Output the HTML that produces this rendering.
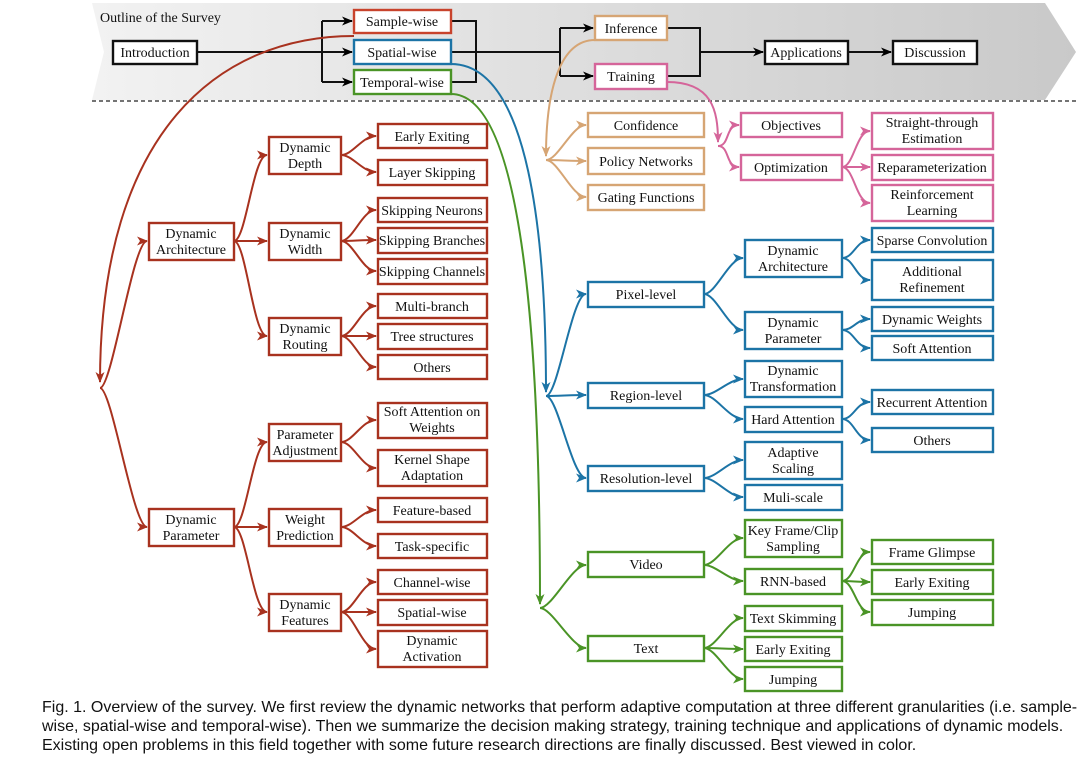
<!DOCTYPE html>
<html><head><meta charset="utf-8"><style>
html,body{margin:0;padding:0;background:#fff;}
svg{display:block;}
svg text{font-family:"Liberation Serif",serif;font-size:14px;text-anchor:middle;fill:#111;}
.cap{font-family:"Liberation Sans",sans-serif;font-size:16px;text-anchor:start;fill:#111;}
</style></head><body>
<svg id="s" width="1080" height="761" viewBox="0 0 1080 761" xmlns="http://www.w3.org/2000/svg">
<defs>
<linearGradient id="g" x1="0" x2="1" y1="0" y2="0"><stop offset="0" stop-color="#f2f2f2"/><stop offset="1" stop-color="#c9c9c9"/></linearGradient>
<marker id="mk" markerWidth="11" markerHeight="11" refX="10" refY="5.5" orient="auto" markerUnits="userSpaceOnUse"><path d="M0,1 L11,5.5 L0,10 L3,5.5z" fill="#000"/></marker>
<marker id="mr" markerWidth="11" markerHeight="11" refX="10" refY="5.5" orient="auto" markerUnits="userSpaceOnUse"><path d="M0,1 L11,5.5 L0,10 L3,5.5z" fill="#a8321f"/></marker>
<marker id="mb" markerWidth="11" markerHeight="11" refX="10" refY="5.5" orient="auto" markerUnits="userSpaceOnUse"><path d="M0,1 L11,5.5 L0,10 L3,5.5z" fill="#1c74a6"/></marker>
<marker id="mg" markerWidth="11" markerHeight="11" refX="10" refY="5.5" orient="auto" markerUnits="userSpaceOnUse"><path d="M0,1 L11,5.5 L0,10 L3,5.5z" fill="#4a9426"/></marker>
<marker id="mo" markerWidth="11" markerHeight="11" refX="10" refY="5.5" orient="auto" markerUnits="userSpaceOnUse"><path d="M0,1 L11,5.5 L0,10 L3,5.5z" fill="#d6a574"/></marker>
<marker id="mp" markerWidth="11" markerHeight="11" refX="10" refY="5.5" orient="auto" markerUnits="userSpaceOnUse"><path d="M0,1 L11,5.5 L0,10 L3,5.5z" fill="#d5659a"/></marker>
</defs>
<path d="M92,3 L1045,3 L1076,52 L1045,100 L92,100 L104,52 Z" fill="url(#g)"/>
<line x1="92" y1="101" x2="1076" y2="101" stroke="#222" stroke-dasharray="4,3" stroke-width="1.2"/>
<text x="100" y="22" style="text-anchor:start;font-size:14px">Outline of the Survey</text>
<g id="conn" fill="none" stroke-width="2"></g>
<g id="boxes" fill="#fff" stroke-width="2.4">
<rect x="113" y="41" width="84" height="23" stroke="#111"/>
<rect x="354" y="10" width="97" height="23" stroke="#c8432c"/>
<rect x="354" y="40" width="97" height="24" stroke="#1c74a6"/>
<rect x="354" y="70" width="97" height="24" stroke="#4a9426"/>
<rect x="595" y="16" width="72" height="24" stroke="#d6a574"/>
<rect x="595" y="64" width="72" height="25" stroke="#d5659a"/>
<rect x="765" y="41" width="83" height="23" stroke="#111"/>
<rect x="893" y="41" width="84" height="23" stroke="#111"/>
<g stroke="#a8321f">
<rect x="149" y="223" width="85" height="37"/><rect x="269" y="137" width="72" height="37"/><rect x="269" y="223" width="72" height="37"/><rect x="269" y="318" width="72" height="37"/>
<rect x="378" y="124" width="109" height="24"/><rect x="378" y="160" width="109" height="25"/><rect x="378" y="198" width="109" height="24"/><rect x="378" y="228" width="109" height="25"/><rect x="378" y="259" width="109" height="25"/><rect x="378" y="294" width="109" height="24"/><rect x="378" y="324" width="109" height="25"/><rect x="378" y="355" width="109" height="24"/>
<rect x="149" y="509" width="85" height="37"/><rect x="269" y="424" width="72" height="37"/><rect x="269" y="509" width="72" height="37"/><rect x="269" y="594" width="72" height="37"/>
<rect x="378" y="403" width="109" height="35"/><rect x="378" y="450" width="109" height="36"/><rect x="378" y="498" width="109" height="24"/><rect x="378" y="534" width="109" height="24"/><rect x="378" y="570" width="109" height="24"/><rect x="378" y="600" width="109" height="25"/><rect x="378" y="631" width="109" height="36"/>
</g>
<g stroke="#d6a574"><rect x="588" y="113" width="116" height="24"/><rect x="588" y="148" width="116" height="26"/><rect x="588" y="185" width="116" height="25"/></g>
<g stroke="#d5659a"><rect x="741" y="113" width="101" height="24"/><rect x="741" y="155" width="101" height="25"/><rect x="872" y="113" width="121" height="36"/><rect x="872" y="155" width="121" height="25"/><rect x="872" y="185" width="121" height="36"/></g>
<g stroke="#1c74a6">
<rect x="588" y="282" width="116" height="25"/><rect x="588" y="383" width="116" height="25"/><rect x="588" y="466" width="116" height="25"/>
<rect x="745" y="240" width="97" height="37"/><rect x="745" y="312" width="97" height="37"/><rect x="745" y="361" width="97" height="36"/><rect x="745" y="407" width="97" height="25"/><rect x="745" y="442" width="97" height="37"/><rect x="745" y="485" width="97" height="25"/>
<rect x="872" y="228" width="121" height="24"/><rect x="872" y="260" width="121" height="40"/><rect x="872" y="307" width="121" height="24"/><rect x="872" y="336" width="121" height="24"/><rect x="872" y="390" width="121" height="24"/><rect x="872" y="428" width="121" height="24"/>
</g>
<g stroke="#4a9426">
<rect x="588" y="552" width="116" height="25"/><rect x="588" y="636" width="116" height="25"/>
<rect x="745" y="520" width="97" height="37"/><rect x="745" y="569" width="97" height="25"/><rect x="745" y="606" width="97" height="25"/><rect x="745" y="637" width="97" height="24"/><rect x="745" y="667" width="97" height="24"/>
<rect x="872" y="540" width="121" height="24"/><rect x="872" y="570" width="121" height="24"/><rect x="872" y="600" width="121" height="25"/>
</g>
</g>
<g>
<text x="155" y="57">Introduction</text>
<text x="402" y="26">Sample-wise</text><text x="402" y="57">Spatial-wise</text><text x="402" y="87">Temporal-wise</text>
<text x="631" y="33">Inference</text><text x="631" y="81">Training</text>
<text x="806" y="57">Applications</text><text x="935" y="57">Discussion</text>
<text x="191" y="238">Dynamic</text><text x="191" y="254">Architecture</text>
<text x="305" y="152">Dynamic</text><text x="305" y="168">Depth</text>
<text x="305" y="238">Dynamic</text><text x="305" y="254">Width</text>
<text x="305" y="333">Dynamic</text><text x="305" y="349">Routing</text>
<text x="432" y="141">Early Exiting</text><text x="432" y="177">Layer Skipping</text><text x="432" y="215">Skipping Neurons</text><text x="432" y="245">Skipping Branches</text><text x="432" y="276">Skipping Channels</text><text x="432" y="311">Multi-branch</text><text x="432" y="341">Tree structures</text><text x="432" y="372">Others</text>
<text x="191" y="524">Dynamic</text><text x="191" y="540">Parameter</text>
<text x="305" y="439">Parameter</text><text x="305" y="455">Adjustment</text>
<text x="305" y="524">Weight</text><text x="305" y="540">Prediction</text>
<text x="305" y="609">Dynamic</text><text x="305" y="625">Features</text>
<text x="432" y="416">Soft Attention on</text><text x="432" y="432">Weights</text>
<text x="432" y="464">Kernel Shape</text><text x="432" y="480">Adaptation</text>
<text x="432" y="515">Feature-based</text><text x="432" y="551">Task-specific</text><text x="432" y="587">Channel-wise</text><text x="432" y="617">Spatial-wise</text>
<text x="432" y="645">Dynamic</text><text x="432" y="661">Activation</text>
<text x="646" y="130">Confidence</text><text x="646" y="166">Policy Networks</text><text x="646" y="202">Gating Functions</text>
<text x="791" y="130">Objectives</text><text x="791" y="172">Optimization</text>
<text x="932" y="127">Straight-through</text><text x="932" y="143">Estimation</text>
<text x="932" y="172">Reparameterization</text>
<text x="932" y="199">Reinforcement</text><text x="932" y="215">Learning</text>
<text x="646" y="299">Pixel-level</text><text x="646" y="400">Region-level</text><text x="646" y="483">Resolution-level</text>
<text x="793" y="255">Dynamic</text><text x="793" y="271">Architecture</text>
<text x="793" y="327">Dynamic</text><text x="793" y="343">Parameter</text>
<text x="793" y="375">Dynamic</text><text x="793" y="391">Transformation</text>
<text x="793" y="424">Hard Attention</text>
<text x="793" y="457">Adaptive</text><text x="793" y="473">Scaling</text>
<text x="793" y="502">Muli-scale</text>
<text x="932" y="245">Sparse Convolution</text>
<text x="932" y="276">Additional</text><text x="932" y="292">Refinement</text>
<text x="932" y="324">Dynamic Weights</text><text x="932" y="353">Soft Attention</text>
<text x="932" y="407">Recurrent Attention</text><text x="932" y="445">Others</text>
<text x="646" y="569">Video</text><text x="646" y="653">Text</text>
<text x="793" y="535">Key Frame/Clip</text><text x="793" y="551">Sampling</text>
<text x="793" y="586">RNN-based</text><text x="793" y="623">Text Skimming</text><text x="793" y="654">Early Exiting</text><text x="793" y="684">Jumping</text>
<text x="932" y="557">Frame Glimpse</text><text x="932" y="587">Early Exiting</text><text x="932" y="617">Jumping</text>
</g>
<text class="cap" x="42" y="712">Fig. 1. Overview of the survey. We first review the dynamic networks that perform adaptive computation at three different granularities (i.e. sample-</text>
<text class="cap" x="42" y="731">wise, spatial-wise and temporal-wise). Then we summarize the decision making strategy, training technique and applications of dynamic models.</text>
<text class="cap" x="42" y="750">Existing open problems in this field together with some future research directions are finally discussed. Best viewed in color.</text>
</svg>
<script>
(function(){
var g=document.getElementById('conn'),NS='http://www.w3.org/2000/svg';
var C={k:'#111',r:'#a8321f',b:'#1c74a6',g:'#4a9426',o:'#d6a574',p:'#d5659a'};
function P(d,c,arrow){var p=document.createElementNS(NS,'path');p.setAttribute('d',d);p.setAttribute('stroke',C[c]);if(arrow)p.setAttribute('marker-end','url(#m'+c+')');g.appendChild(p);}
function F(x1,y1,x2,y2,c){P('M'+x1+','+y1+' C'+(x1+12)+','+y1+' '+(x2-14)+','+y2+' '+x2+','+y2,c,1);}
P('M197,52 H352','k',1);P('M322,21 V82','k');P('M322,21 H352','k',1);P('M322,82 H352','k',1);
P('M451,21 H476 V82 H451','k');P('M451,52 H560','k');P('M560,28 V76','k');P('M560,28 H593','k',1);P('M560,76 H593','k',1);
P('M667,28 H700 V76 H667','k');P('M700,52 H763','k',1);P('M848,52 H891','k',1);
P('M354,36 C220,36 100,130 100,382','r',1);
F(100,388,147,241,'r');F(100,388,147,527,'r');
P('M451,64 C530,64 546,240 546,392','b',1);
F(546,396,586,294,'b');F(546,396,586,395,'b');F(546,396,586,478,'b');
P('M451,94 C528,94 540,380 540,604','g',1);
F(540,608,586,565,'g');F(540,608,586,648,'g');
P('M595,40 C560,40 546,90 546,156','o',1);
F(546,160,586,125,'o');F(546,160,586,161,'o');F(546,160,586,197,'o');
P('M667,82 C712,82 718,110 718,142','p',1);
F(718,146,739,125,'p');F(718,146,739,167,'p');
F(234,241,267,155,'r');F(234,241,267,241,'r');F(234,241,267,336,'r');
F(341,155,376,136,'r');F(341,155,376,172,'r');
F(341,241,376,210,'r');F(341,241,376,240,'r');F(341,241,376,271,'r');
F(341,336,376,306,'r');F(341,336,376,336,'r');F(341,336,376,367,'r');
F(234,527,267,442,'r');F(234,527,267,527,'r');F(234,527,267,612,'r');
F(341,442,376,420,'r');F(341,442,376,468,'r');
F(341,527,376,510,'r');F(341,527,376,546,'r');
F(341,612,376,582,'r');F(341,612,376,612,'r');F(341,612,376,649,'r');
F(842,167,870,131,'p');F(842,167,870,167,'p');F(842,167,870,203,'p');
F(704,294,743,258,'b');F(704,294,743,330,'b');
F(704,395,743,379,'b');F(704,395,743,419,'b');
F(704,478,743,460,'b');F(704,478,743,497,'b');
F(842,258,870,240,'b');F(842,258,870,280,'b');
F(842,330,870,319,'b');F(842,330,870,348,'b');
F(842,419,870,402,'b');F(842,419,870,440,'b');
F(704,565,743,538,'g');F(704,565,743,581,'g');
F(704,648,743,618,'g');F(704,648,743,649,'g');F(704,648,743,679,'g');
F(842,581,870,552,'g');F(842,581,870,582,'g');F(842,581,870,612,'g');
})();
</script>
</body></html>
